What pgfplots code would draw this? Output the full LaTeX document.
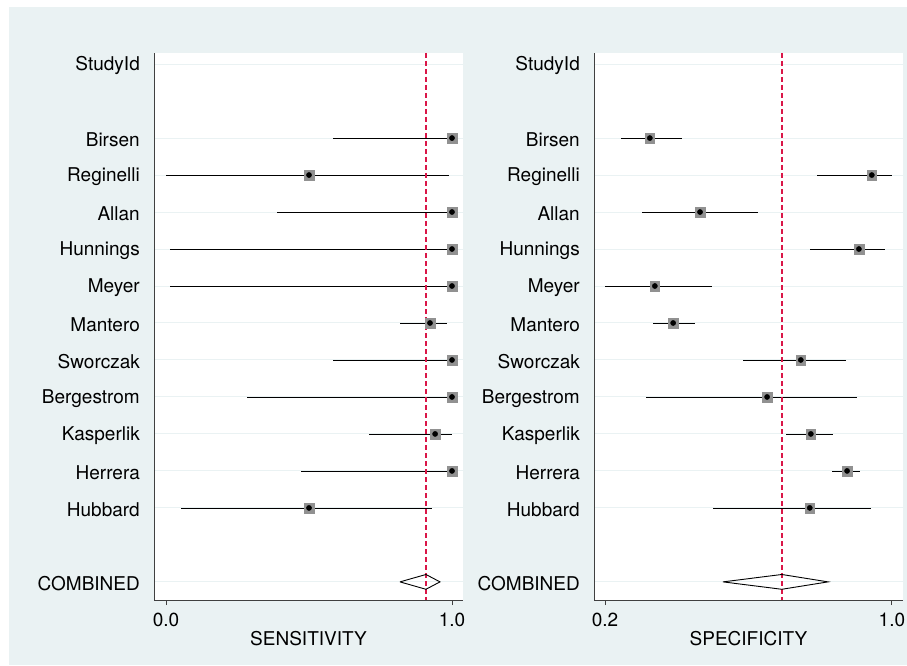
\documentclass[border=0pt]{standalone}
\usepackage{fontspec}
\setmainfont{TeX Gyre Heros}
\usepackage{pgfplots}
\usepackage{pgfplotstable}
\pgfplotsset{compat=1.18}
\definecolor{bgc}{RGB}{234,242,243}
\definecolor{refred}{RGB}{218,22,72}
\definecolor{sqgray}{RGB}{145,145,145}

\pgfplotstableread{
row est lo hi
1 1.0 0.584 1.0
2 0.5 0.0 0.988
3 1.0 0.388 1.0
4 1.0 0.014 1.0
5 1.0 0.014 1.0
6 0.923 0.818 0.983
7 1.0 0.584 1.0
8 1.0 0.283 1.0
9 0.941 0.710 1.0
10 1.0 0.472 1.0
11 0.5 0.052 0.930
}\sens

\pgfplotstableread{
row est lo hi
1 0.325 0.245 0.415
2 0.944 0.791 1.0
3 0.465 0.303 0.626
4 0.908 0.771 0.980
5 0.339 0.200 0.498
6 0.390 0.334 0.451
7 0.746 0.585 0.872
8 0.652 0.314 0.902
9 0.774 0.705 0.836
10 0.875 0.833 0.911
11 0.771 0.501 0.941
}\spec

\pgfplotsset{
  forest/.style={
    scale only axis, width=309pt, height=547pt,
    ymin=-13.49, ymax=1.30,
    axis background/.style={fill=white},
    axis x line*=bottom, axis y line*=left,
    axis line style={black!75, line width=0.9pt, -},
    tick align=outside, major tick length=5pt,
    xtick style={black!75, line width=0.9pt},
    ytick style={draw=none},
    ytick={1,-1,-2,-3,-4,-5,-6,-7,-8,-9,-10,-11,-13},
    yticklabels={StudyId,Birsen,Reginelli,Allan,Hunnings,Meyer,Mantero,Sworczak,Bergestrom,Kasperlik,Herrera,Hubbard,COMBINED},
    ymajorgrids, grid style={bgc, line width=1pt},
    yticklabel style={font=\fontsize{19}{22}\selectfont, anchor=east, inner sep=0pt, xshift=-9pt, yshift=-1.5pt},
    xticklabel style={font=\fontsize{19}{22}\selectfont, anchor=base, inner sep=0pt, yshift=-21pt},
    /pgf/number format/assume math mode=true,
    xlabel style={font=\fontsize{19}{22}\selectfont, at={(axis description cs:0.5,0)}, anchor=base, inner sep=0pt, yshift=-45pt},
    clip=false,
  },
  cibar/.style={draw=none, mark=none,
    error bars/.cd, x dir=both, x explicit, error mark=none,
    error bar style={black, line width=0.8pt}},
  sq/.style={only marks, mark=square*, mark size=4.8pt, mark options={fill=sqgray, draw=sqgray}},
  dot/.style={only marks, mark=*, mark size=2.6pt, mark options={fill=black, draw=black}},
}

\begin{document}
\begin{tikzpicture}[x=1pt,y=1pt]
\fill[white] (0,0) rectangle (907,665);
\fill[bgc] (9,0) rectangle (907,658);

\begin{axis}[forest, at={(154pt,65pt)}, anchor=south west,
  xmin=-0.042, xmax=1.0385, xtick={0,1}, xticklabels={0.0,1.0},
  xlabel={SENSITIVITY}]
\addplot[cibar] table[x=est, y expr=-\thisrow{row}, x error plus expr=\thisrow{hi}-\thisrow{est}, x error minus expr=\thisrow{est}-\thisrow{lo}] {\sens};
\addplot[refred, line width=1.5pt, dash pattern=on 5pt off 3pt] coordinates {(0.909,1.30) (0.909,-13.49)};
\addplot[sq] table[x=est, y expr=-\thisrow{row}] {\sens};
\addplot[dot] table[x=est, y expr=-\thisrow{row}] {\sens};
\addplot[black, line width=0.9pt] coordinates {(0.818,-13) (0.909,-12.8) (0.958,-13) (0.909,-13.2) (0.818,-13)};
\end{axis}

\begin{axis}[forest, at={(594pt,65pt)}, anchor=south west,
  xmin=0.1693, xmax=1.031, xtick={0.2,1}, xticklabels={0.2,1.0},
  xlabel={SPECIFICITY}]
\addplot[cibar] table[x=est, y expr=-\thisrow{row}, x error plus expr=\thisrow{hi}-\thisrow{est}, x error minus expr=\thisrow{est}-\thisrow{lo}] {\spec};
\addplot[refred, line width=1.5pt, dash pattern=on 5pt off 3pt] coordinates {(0.693,1.30) (0.693,-13.49)};
\addplot[sq] table[x=est, y expr=-\thisrow{row}] {\spec};
\addplot[dot] table[x=est, y expr=-\thisrow{row}] {\spec};
\addplot[black, line width=0.9pt] coordinates {(0.529,-13) (0.693,-12.8) (0.822,-13) (0.693,-13.2) (0.529,-13)};
\end{axis}
\end{tikzpicture}
\end{document}
